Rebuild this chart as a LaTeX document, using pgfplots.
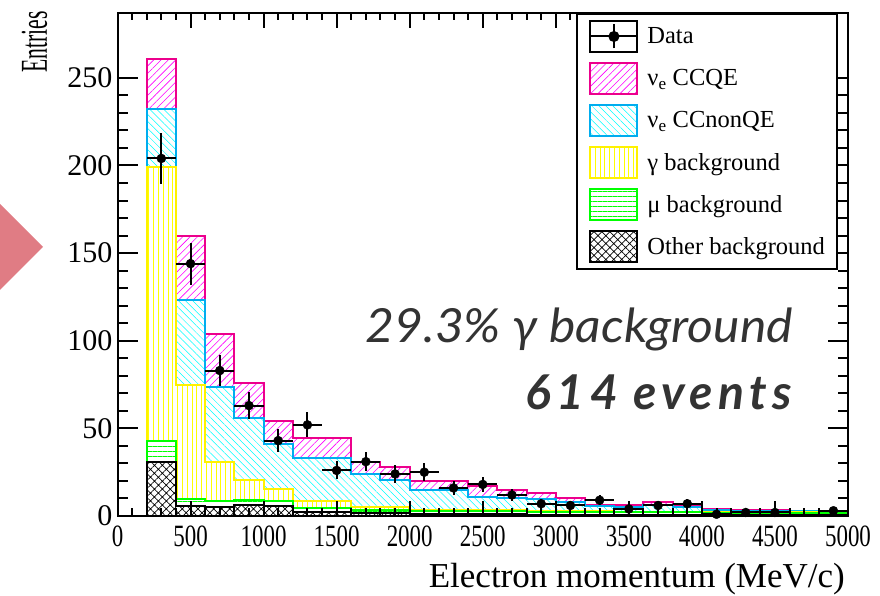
\documentclass[border=0pt]{standalone}
\usepackage{pgfplots}
\pgfplotsset{compat=1.18}
\usepackage{pgfplotstable}
\usetikzlibrary{patterns.meta}
\usepackage{fontspec}
\setmainfont{Liberation Serif}
\newfontfamily\latofont{Lato}
\newfontfamily\latospaced{Lato}[LetterSpace=11]
\definecolor{trired}{HTML}{E07C84}
\definecolor{txtgray}{HTML}{333333}
\newcommand\sx[1]{\scalebox{0.74}[1]{#1}}

% cumulative stack heights (left bin edge), last row closes final bin
\pgfplotstableread{
x     other mu   gam   nonqe qe
200   31    43   199   232.5 261
400   5.5   9.5  75    123   160
600   5.3   8.7  31    73.5  104
800   6.5   9    20.5  56    76
1000  5.7   8.7  15.2  41    54
1200  2     4.4  8.5   33    44.5
1400  2     4.4  8.5   33    44.5
1600  1.5   3.5  5     24    31
1800  1.5   3.5  5     20.5  28
2000  1     3    3.5   15    20
2200  1     3    3.5   15    20
2400  1     3    3.5   11    17
2600  1     3    3.5   10    15
2800  0.5   2.5  3     9.5   13
3000  0.5   2.5  3     8     10.5
3200  0.5   2.5  3     5.5   6.5
3400  0.5   2    2.5   5     6
3600  0.5   2    2.5   6     8
3800  0.5   2    2.5   5     6
4000  0.3   1.5  2     3.5   4
4200  0.3   1.5  2     3     3.5
4400  0.3   1.5  2     3     3.5
4600  0.3   1.5  2     2.8   3
4800  0.3   1.5  2     2.8   3
5000  0.3   1.5  2     2.8   3
}\stack

\pgfplotsset{
  hist/.style={const plot mark left, mark=none, line width=2pt, preaction={fill=white},
    legend image code/.code={\draw[##1] (0pt,-15.5pt) rectangle (47pt,15.5pt);}},
}

\begin{document}
\begin{tikzpicture}
\useasboundingbox (0,0) rectangle (880pt,596pt);
\fill[trired] (0pt,392pt) -- (43pt,349pt) -- (0pt,306pt) -- cycle;
\begin{axis}[
  at={(117.5pt,80pt)}, anchor=south west,
  scale only axis, width=730.5pt, height=503pt,
  xmin=0, xmax=5000, ymin=0, ymax=287,
  clip=false, axis on top,
  axis line style={line width=2pt},
  tick style={line width=2pt, black},
  major tick length=20pt, minor tick length=10pt,
  xtick style={/pgfplots/major tick length=15pt, /pgfplots/minor tick length=7.5pt},
  tick align=inside, tick pos=both,
  xticklabel pos=lower, yticklabel pos=left,
  xtick={0,500,...,5000}, minor x tick num=4,
  xticklabels={\sx{0},\sx{500},\sx{1000},\sx{1500},\sx{2000},\sx{2500},\sx{3000},\sx{3500},\sx{4000},\sx{4500},\sx{5000}},
  ytick={0,50,...,250}, minor y tick num=4,
  yticklabels={0,50,100,150,200,250},
  xticklabel style={font=\fontsize{31}{31}\selectfont, inner sep=0pt, yshift=-10pt},
  yticklabel style={font=\fontsize{30}{30}\selectfont, inner sep=0pt, xshift=-5pt},
  xlabel={Electron momentum (MeV/c)},
  every axis x label/.style={at={(axis description cs:0.9959,0)}, anchor=north east, inner sep=0pt, yshift=-47pt, font=\fontsize{35}{35}\selectfont},
  ylabel={\fontsize{38}{38}\selectfont\scalebox{0.57}[1]{Entries}},
  every axis y label/.style={at={(axis description cs:0,1)}, xshift=-70pt, yshift=2pt, rotate=90, anchor=south east, inner sep=0pt},
  legend style={at={(0.9863,1)}, anchor=north east, draw=black, line width=2pt, fill=white,
    font=\fontsize{24.5}{24.5}\selectfont, inner xsep=12pt, inner ysep=6pt, row sep=9pt,
    nodes={inner sep=0pt, anchor=west},
    /tikz/every odd column/.append style={column sep=9pt}},
  legend cell align=left,
]
\addlegendimage{legend image code/.code={
  \path (0pt,-15.5pt) rectangle (47pt,15.5pt);
  \draw[black, line width=2pt] (0pt,0pt) -- (47pt,0pt);
  \draw[black, line width=2pt] (23.5pt,-12pt) -- (23.5pt,12pt);
  \fill[black] (23.5pt,0pt) circle (4.5pt);}}
\addlegendentry{Data}

\addplot[hist, draw=magenta, pattern={Lines[angle=45,distance=5.2pt,line width=0.6pt]}, pattern color=magenta]
  table[x=x, y=qe] {\stack} \closedcycle;
\addlegendentry{ν\textsubscript{e} CCQE}
\addplot[hist, draw=cyan, pattern={Lines[angle=-45,distance=5pt,line width=0.5pt]}, pattern color=cyan]
  table[x=x, y=nonqe] {\stack} \closedcycle;
\addlegendentry{ν\textsubscript{e} CCnonQE}
\addplot[hist, draw=yellow, pattern={Lines[angle=90,distance=4.8pt,line width=0.8pt]}, pattern color=yellow]
  table[x=x, y=gam] {\stack} \closedcycle;
\addlegendentry{γ background}
\addplot[hist, draw=green, pattern={Lines[angle=0,distance=5pt,line width=0.7pt]}, pattern color=green]
  table[x=x, y=mu] {\stack} \closedcycle;
\addlegendentry{μ background}
\addplot[hist, draw=black, pattern={Hatch[angle=45,distance=5.6pt,line width=0.7pt]}, pattern color=black]
  table[x=x, y=other] {\stack} \closedcycle;
\addlegendentry{Other background}

\addplot[forget plot, black, only marks, mark=*, mark size=4.5pt,
  error bars/.cd, x dir=both, x explicit, y dir=both, y explicit, error mark=none,
  error bar style={line width=2pt, black}]
  coordinates {
  (300,204) +- (100,14.3)
  (500,144) +- (100,12)
  (700,83) +- (100,9.1)
  (900,63) +- (100,7.9)
  (1100,43) +- (100,6.6)
  (1300,52) +- (100,7.2)
  (1500,26) +- (100,5.1)
  (1700,31) +- (100,5.6)
  (1900,24) +- (100,4.9)
  (2100,25) +- (100,5)
  (2300,16) +- (100,4)
  (2500,18) +- (100,4.2)
  (2700,12) +- (100,3.5)
  (2900,7) +- (100,2.6)
  (3100,6) +- (100,2.4)
  (3300,9) +- (100,3)
  (3500,4) +- (100,2)
  (3700,6) +- (100,2.4)
  (3900,7) +- (100,2.6)
  (4100,1) +- (100,1)
  (4300,2) +- (100,1.4)
  (4500,2) +- (100,1.4)
  (4900,3) +- (100,1.7)
  };
\end{axis}
\node[anchor=base east, inner sep=0pt, text=txtgray, font=\fontsize{47}{47}\latofont\itshape] at (793pt,253pt) {\scalebox{1.06}[1]{29.3\% γ background}};
\node[anchor=base east, inner sep=0pt, text=txtgray, font=\fontsize{48}{48}\latospaced\bfseries\itshape] at (792pt,186pt) {614 events};
\end{tikzpicture}
\end{document}
